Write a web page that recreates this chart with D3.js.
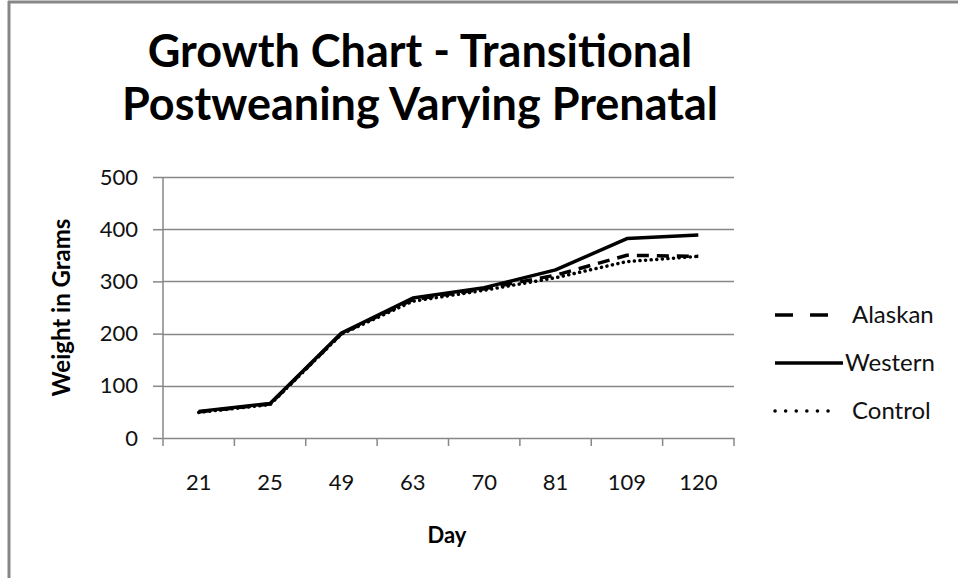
<!DOCTYPE html>
<html>
<head>
<meta charset="utf-8">
<script src="https://cdn.jsdelivr.net/npm/d3@7"></script>
<style>
  html, body { margin: 0; padding: 0; background: #fff; overflow: hidden; }
  svg { display: block; }
</style>
</head>
<body>
<div id="chart"></div>
<script>
// chart data
const days = ['21', '25', '49', '63', '70', '81', '109', '120'];
const alaskan = [50, 65, 200, 265, 286, 312, 350, 348];
const western = [51, 66, 201, 268, 288, 322, 382, 389];
const control = [49, 64, 199, 262, 283, 307, 338, 348];
const yTicks = [0, 100, 200, 300, 400, 500];
const titleLines = ['Growth Chart - Transitional', 'Postweaning Varying Prenatal'];

const series = [
  { name: 'Alaskan', values: alaskan, dash: '12,8', legendDash: '18,17', cap: 'butt' },
  { name: 'Western', values: western, dash: null, legendDash: null, cap: 'butt' },
  { name: 'Control', values: control, dash: '0.1,5.5', legendDash: '0.1,10.5', cap: 'round' }
];

const width = 958, height = 578;
const margin = { top: 177, right: 224, bottom: 140, left: 163 };
const innerWidth = width - margin.left - margin.right;
const innerHeight = height - margin.top - margin.bottom;
const font = 'Lato, "Open Sans", sans-serif';
const gray = '#878787';

const svg = d3.select('#chart').append('svg')
  .attr('width', width)
  .attr('height', height)
  .attr('viewBox', `0 0 ${width} ${height}`);

// outer frame: only the left and top edges show
svg.append('line')
  .attr('x1', 9).attr('x2', 9).attr('y1', 1).attr('y2', height)
  .attr('stroke', gray).attr('stroke-width', 3);
svg.append('line')
  .attr('x1', 8).attr('x2', width).attr('y1', 2).attr('y2', 2)
  .attr('stroke', gray).attr('stroke-width', 3);

// title
svg.append('g').selectAll('text')
  .data(titleLines)
  .enter().append('text')
  .attr('x', 420)
  .attr('y', (d, i) => 67 + i * 53)
  .attr('text-anchor', 'middle')
  .style('font-family', font)
  .style('font-weight', 'bold')
  .style('font-size', '45px')
  .text(d => d);

const g = svg.append('g')
  .attr('transform', `translate(${margin.left},${margin.top})`);

const x = d3.scaleBand().domain(days).range([0, innerWidth]);
const y = d3.scaleLinear().domain([0, 500]).range([innerHeight, 0]);

// gridlines
g.append('g')
  .selectAll('line')
  .data(yTicks.slice(1))
  .enter().append('line')
  .attr('x1', 0).attr('x2', innerWidth)
  .attr('y1', d => Math.round(y(d)) + 0.5).attr('y2', d => Math.round(y(d)) + 0.5)
  .attr('stroke', gray)
  .attr('stroke-width', 1.5);

// y axis
const yAxis = g.append('g')
  .call(d3.axisLeft(y).tickValues(yTicks).tickSize(10).tickPadding(15));
yAxis.select('.domain').attr('stroke', gray).attr('stroke-width', 1.5).attr('d', `M0,${innerHeight}V0`);
yAxis.selectAll('.tick line').attr('stroke', gray).attr('stroke-width', 1.5);
yAxis.selectAll('.tick text')
  .style('font-family', font)
  .style('font-size', '22px')
  .attr('fill', '#111');

// x axis, ticks on band edges
const xAxis = g.append('g')
  .attr('transform', `translate(0,${innerHeight})`)
  .call(d3.axisBottom(x).tickSize(0).tickPadding(36));
xAxis.select('.domain').attr('stroke', gray).attr('stroke-width', 1.5);
xAxis.selectAll('.tick text')
  .style('font-family', font)
  .style('font-size', '22px')
  .attr('fill', '#111');
xAxis.selectAll('.edge')
  .data(d3.range(days.length + 1))
  .enter().append('line')
  .attr('class', 'edge')
  .attr('x1', i => i * x.step()).attr('x2', i => i * x.step())
  .attr('y1', 0).attr('y2', 8)
  .attr('stroke', gray)
  .attr('stroke-width', 1.5);

// axis titles
svg.append('text')
  .attr('x', 447).attr('y', 543)
  .attr('text-anchor', 'middle')
  .style('font-family', font)
  .style('font-weight', 'bold')
  .style('font-size', '22px')
  .text('Day');

svg.append('text')
  .attr('transform', `translate(70,${margin.top + innerHeight / 2}) rotate(-90)`)
  .attr('text-anchor', 'middle')
  .style('font-family', font)
  .style('font-weight', 'bold')
  .style('font-size', '24px')
  .text('Weight in Grams');

// lines
const line = d3.line()
  .x((d, i) => x(days[i]) + x.bandwidth() / 2)
  .y(d => y(d));

series.forEach(s => {
  g.append('path')
    .datum(s.values)
    .attr('fill', 'none')
    .attr('stroke', '#000')
    .attr('stroke-width', 3.5)
    .attr('stroke-linejoin', 'round')
    .attr('stroke-linecap', s.cap)
    .attr('stroke-dasharray', s.dash)
    .attr('d', line);
});

// legend
const legend = svg.append('g')
  .attr('transform', 'translate(775,315)');

const items = legend.selectAll('g')
  .data(series)
  .enter().append('g')
  .attr('transform', (d, i) => `translate(0,${i * 48})`);

items.append('line')
  .attr('x1', 0).attr('x2', d => d.legendDash ? 62 : 68)
  .attr('y1', 0).attr('y2', 0)
  .attr('stroke', '#000')
  .attr('stroke-width', 3.5)
  .attr('stroke-linecap', d => d.cap)
  .attr('stroke-dasharray', d => d.legendDash);

items.append('text')
  .attr('x', d => d.legendDash ? 77 : 70)
  .attr('y', 8)
  .style('font-family', font)
  .style('font-size', '24px')
  .attr('fill', '#111')
  .text(d => d.name);
</script>
</body>
</html>
